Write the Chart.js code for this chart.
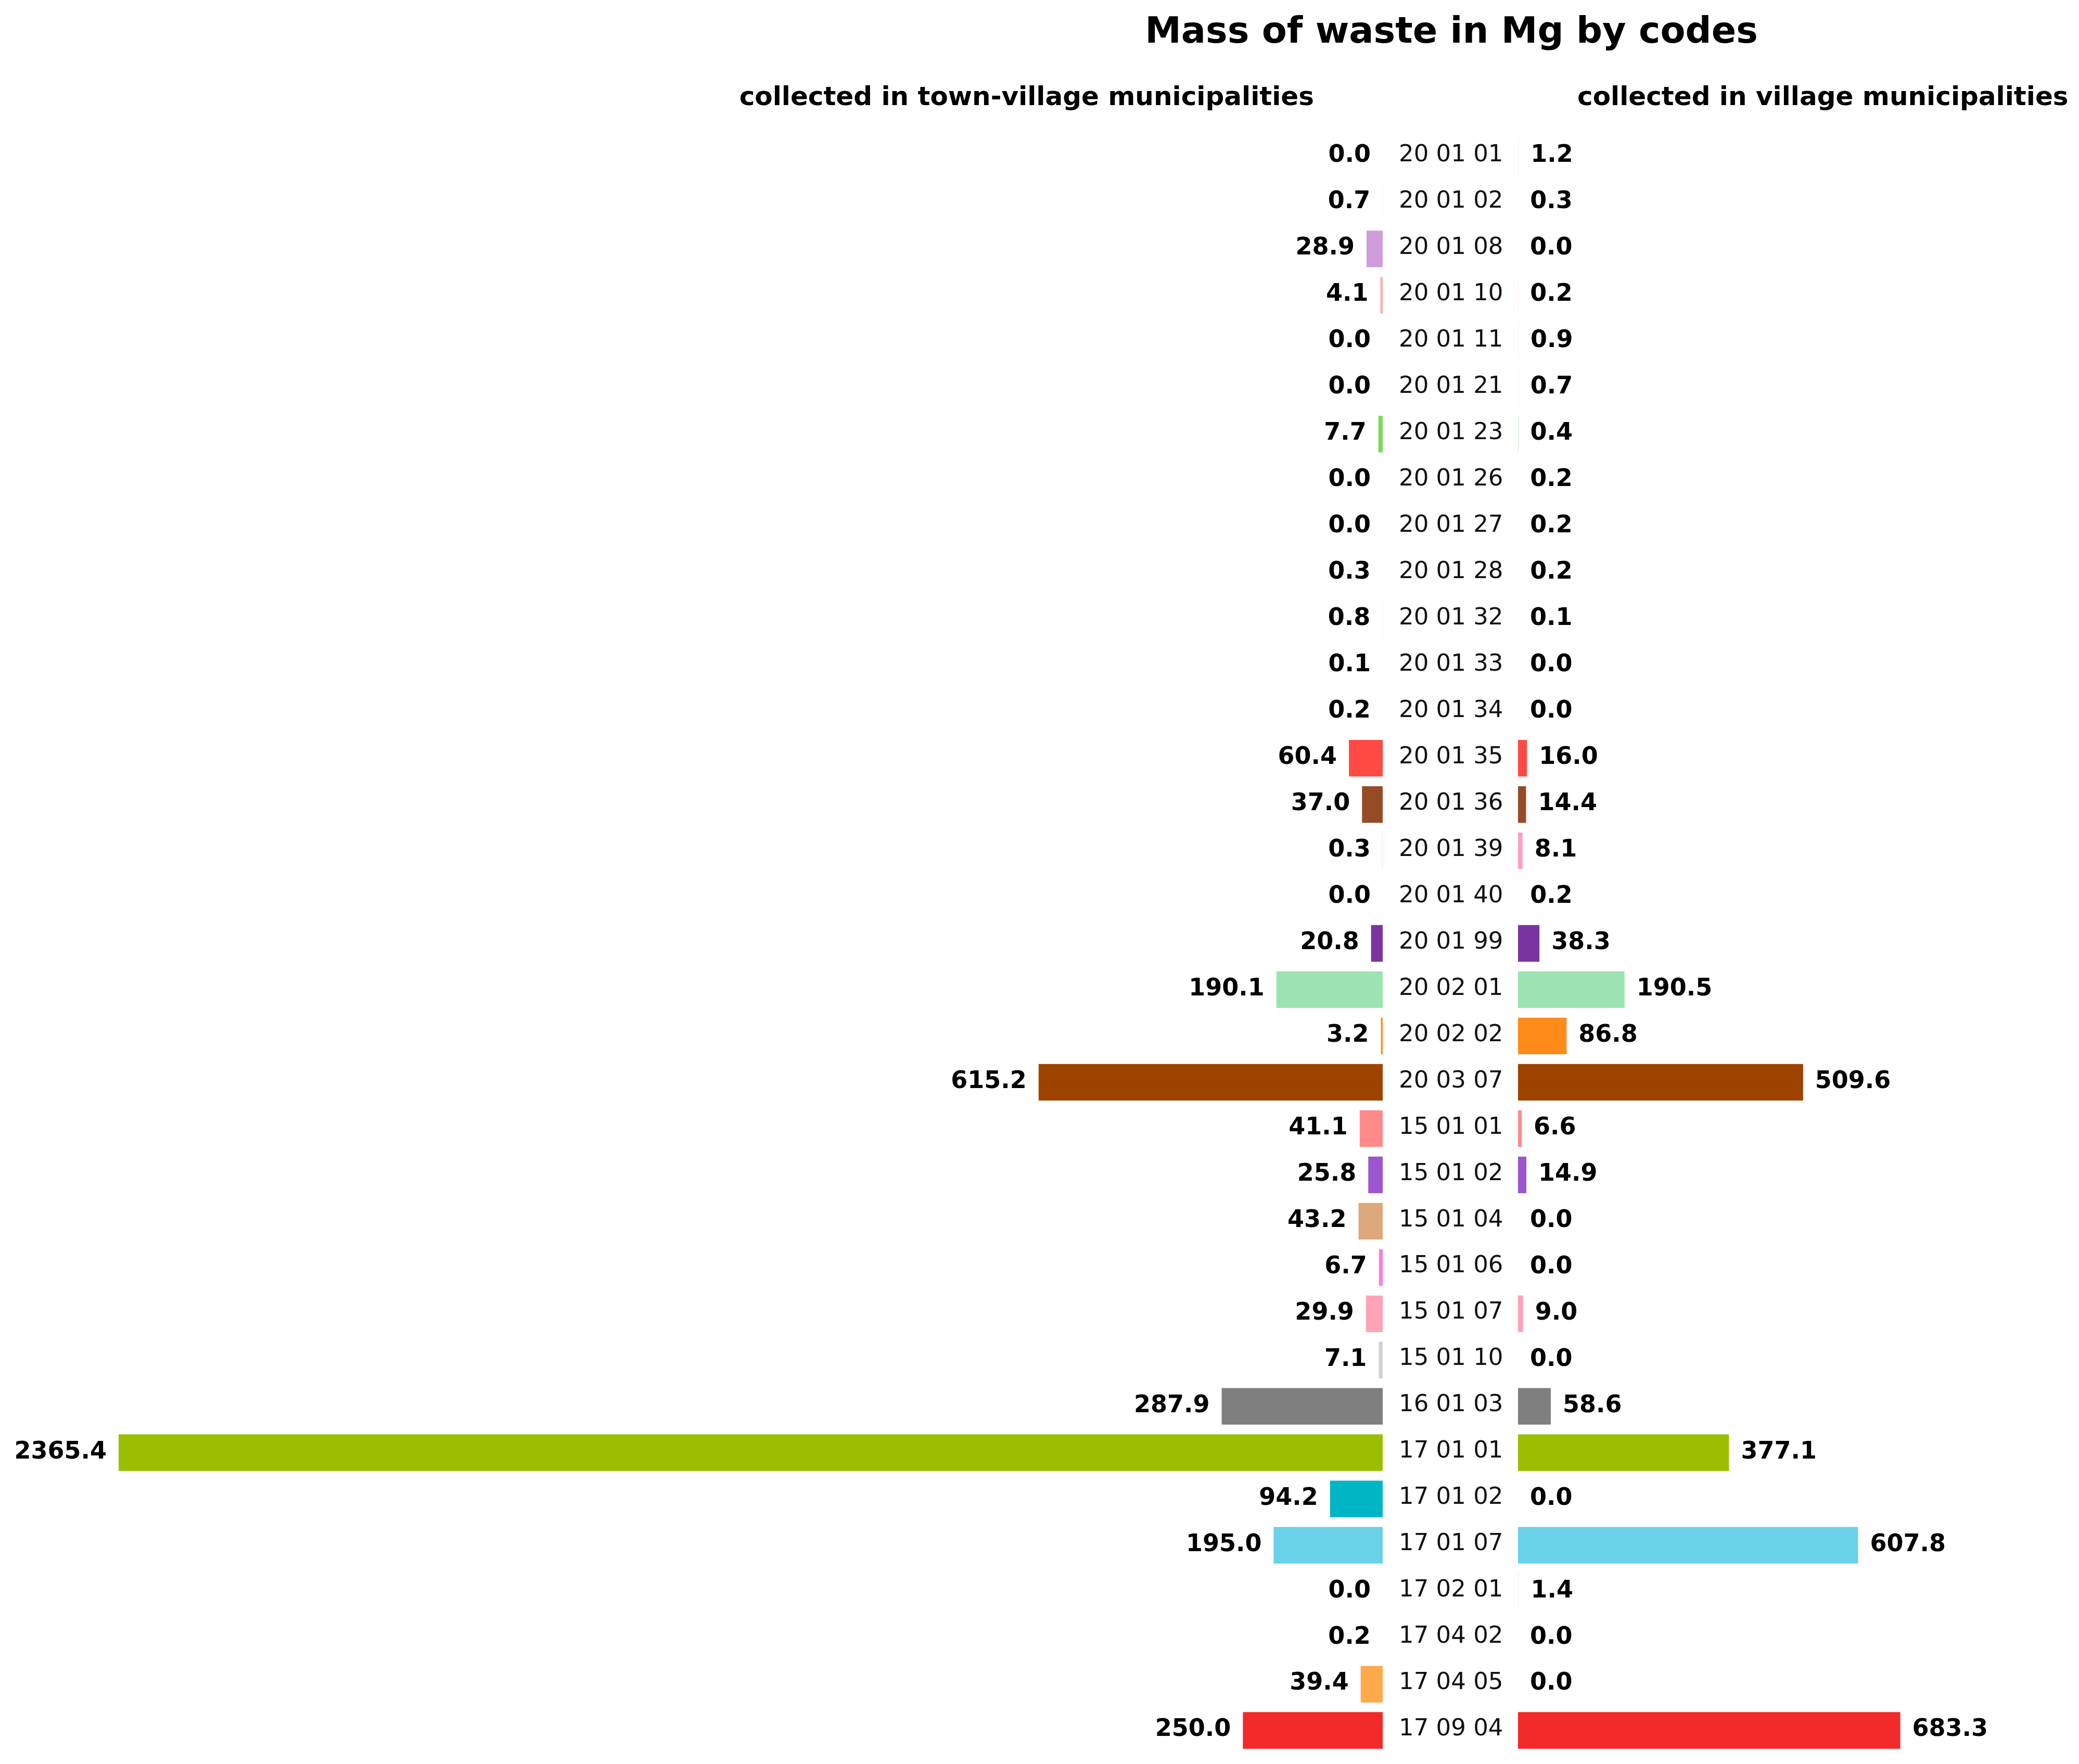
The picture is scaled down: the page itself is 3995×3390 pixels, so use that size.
<!DOCTYPE html>
<html>
<head>
<meta charset="utf-8">
<title>Mass of waste in Mg by codes</title>
<script src="https://cdn.jsdelivr.net/npm/chart.js@4.4.1/dist/chart.umd.min.js"></script>
<style>
  html, body { margin: 0; padding: 0; background: #fff; }
  body { position: relative; width: 3995px; height: 3390px; overflow: hidden; font-family: 'DejaVu Sans', sans-serif; }
  .txt { position: absolute; font-weight: bold; color: #000; white-space: nowrap; line-height: 1; }
  #title { left: 1789px; width: 2000px; top: 23px; font-size: 70px; text-align: center; }
  #subLeft { left: 0; width: 2525px; top: 160px; font-size: 50px; text-align: right; }
  #subRight { left: 3031px; top: 160px; font-size: 50px; }
  canvas { position: absolute; top: 0; }
  #leftChart { left: 0; }
  #rightChart { left: 2657px; }
</style>
</head>
<body>
<div id="title" class="txt">Mass of waste in Mg by codes</div>
<div id="subLeft" class="txt">collected in town-village municipalities</div>
<div id="subRight" class="txt">collected in village municipalities</div>
<canvas id="leftChart" width="2657" height="3390"></canvas>
<canvas id="rightChart" width="1338" height="3390"></canvas>
<script>
// waste codes, top to bottom
const codes = [
  '20 01 01', '20 01 02', '20 01 08', '20 01 10', '20 01 11', '20 01 21', '20 01 23',
  '20 01 26', '20 01 27', '20 01 28', '20 01 32', '20 01 33', '20 01 34', '20 01 35',
  '20 01 36', '20 01 39', '20 01 40', '20 01 99', '20 02 01', '20 02 02', '20 03 07',
  '15 01 01', '15 01 02', '15 01 04', '15 01 06', '15 01 07', '15 01 10', '16 01 03',
  '17 01 01', '17 01 02', '17 01 07', '17 02 01', '17 04 02', '17 04 05', '17 09 04'
];

// Mg collected in town-village municipalities (left side)
const townVillage = [
  0.0, 0.7, 28.9, 4.1, 0.0, 0.0, 7.7,
  0.0, 0.0, 0.3, 0.8, 0.1, 0.2, 60.4,
  37.0, 0.3, 0.0, 20.8, 190.1, 3.2, 615.2,
  41.1, 25.8, 43.2, 6.7, 29.9, 7.1, 287.9,
  2365.4, 94.2, 195.0, 0.0, 0.2, 39.4, 250.0
];

// Mg collected in village municipalities (right side)
const village = [
  1.2, 0.3, 0.0, 0.2, 0.9, 0.7, 0.4,
  0.2, 0.2, 0.2, 0.1, 0.0, 0.0, 16.0,
  14.4, 8.1, 0.2, 38.3, 190.5, 86.8, 509.6,
  6.6, 14.9, 0.0, 0.0, 9.0, 0.0, 58.6,
  377.1, 0.0, 607.8, 1.4, 0.0, 0.0, 683.3
];

// one colour per code, same on both sides
const barColors = [
  '#f2f2f2', '#f2f2f2', '#cf9ddb', '#fcaab0', '#f2f2f2', '#f2f2f2', '#7ed957',
  '#f2f2f2', '#f2f2f2', '#f2f2f2', '#f2f2f2', '#f2f2f2', '#f2f2f2', '#ff4a44',
  '#954b26', '#ff9ec4', '#f2f2f2', '#7b35a0', '#9de3b1', '#ff8c1a', '#9e4200',
  '#ff8a8a', '#9a55cf', '#dca87c', '#ff7ed8', '#ffa3b8', '#d3d3d3', '#7f7f7f',
  '#99bf00', '#00b5c4', '#69d1e8', '#f2f2f2', '#f2f2f2', '#ffa94d', '#f22a2a'
];

Chart.defaults.font.family = "'DejaVu Sans', sans-serif";
Chart.defaults.color = '#000';

// bold value next to the end of every bar
const valueLabels = {
  id: 'valueLabels',
  afterDatasetsDraw(chart, args, opts) {
    const ctx = chart.ctx;
    const area = chart.chartArea;
    const values = chart.data.datasets[0].data;
    ctx.save();
    ctx.font = 'bold 46px "DejaVu Sans", sans-serif';
    ctx.fillStyle = '#000';
    ctx.textBaseline = 'middle';
    chart.getDatasetMeta(0).data.forEach((bar, i) => {
      const text = values[i].toFixed(1);
      if (opts.side === 'left') {
        ctx.textAlign = 'right';
        ctx.fillText(text, Math.max(bar.x, area.left) - opts.gap, bar.y + opts.dy);
      } else {
        ctx.textAlign = 'left';
        ctx.fillText(text, Math.min(bar.x, area.right) + opts.gap, bar.y + opts.dy);
      }
    });
    ctx.restore();
  }
};

const pad = { top: 256, bottom: 20 };

new Chart(document.getElementById('leftChart'), {
  type: 'bar',
  data: {
    labels: codes,
    datasets: [{
      data: townVillage,
      backgroundColor: barColors,
      borderWidth: 0,
      barPercentage: 0.79,
      categoryPercentage: 1,
      clip: 0
    }]
  },
  options: {
    indexAxis: 'y',
    responsive: false,
    animation: false,
    layout: { padding: { left: 228, right: 0, top: pad.top, bottom: pad.bottom } },
    scales: {
      x: { display: false, reverse: true, min: 0, max: 2260 },
      y: { display: false }
    },
    plugins: {
      legend: { display: false },
      tooltip: { enabled: false },
      valueLabels: { side: 'left', gap: 23, dy: -1 }
    }
  },
  plugins: [valueLabels]
});

new Chart(document.getElementById('rightChart'), {
  type: 'bar',
  data: {
    labels: codes,
    datasets: [{
      data: village,
      backgroundColor: barColors,
      borderWidth: 0,
      barPercentage: 0.79,
      categoryPercentage: 1,
      clip: 0
    }]
  },
  options: {
    indexAxis: 'y',
    responsive: false,
    animation: false,
    layout: { padding: { left: 31, right: 3, top: pad.top, bottom: pad.bottom } },
    scales: {
      x: { display: false, min: 0, max: 1000 },
      y: {
        position: 'left',
        grid: { display: false, drawTicks: false },
        border: { display: false },
        ticks: {
          autoSkip: false,
          color: '#111',
          font: { size: 45, lineHeight: 0.7 },
          padding: 0,
          crossAlign: 'far',
          labelOffset: -2
        },
        afterFit(scale) { scale.width = 229; }
      }
    },
    plugins: {
      legend: { display: false },
      tooltip: { enabled: false },
      valueLabels: { side: 'right', gap: 23, dy: -1 }
    }
  },
  plugins: [valueLabels]
});
</script>
</body>
</html>
